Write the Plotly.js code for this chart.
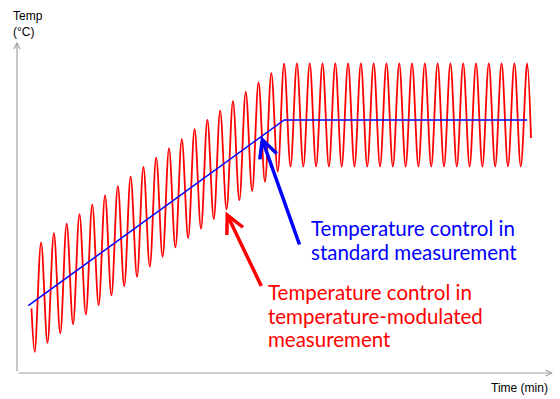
<!DOCTYPE html>
<html>
<head>
<meta charset="utf-8">
<script src="https://cdn.plot.ly/plotly-3.0.1.min.js"></script>
<style>html,body{margin:0;padding:0;background:#fff;}#chart{width:560px;height:399px;}</style>
</head>
<body>
<div id="chart"></div>
<script>
// Temperature-modulated measurement (red): alternating extremes of the modulation
const modTime = [0.25,
  0.5, 1, 1.5, 2, 2.5, 3, 3.5, 4, 4.5, 5, 5.5, 6, 6.5, 7, 7.5, 8, 8.5, 9, 9.5, 10,
  10.5, 11, 11.5, 12, 12.5, 13, 13.5, 14, 14.5, 15, 15.5, 16, 16.5, 17, 17.5, 18, 18.5, 19, 19.5, 20,
  20.5, 21, 21.5, 22, 22.5, 23, 23.5, 24, 24.5, 25, 25.5, 26, 26.5, 27, 27.5, 28, 28.5, 29, 29.5, 30,
  30.5, 31, 31.5, 32, 32.5, 33, 33.5, 34, 34.5, 35, 35.5, 36, 36.5, 37, 37.5, 38, 38.5, 39,
  39.3];
const modTemp = [29,
  12.6, 53.9, 16.0, 57.3, 19.6, 60.9, 23.1, 64.5, 26.7, 68.1, 30.2, 71.6, 33.9, 75.1, 37.4, 78.6, 40.9, 82.3, 44.7, 85.8,
  48.4, 89.3, 52.0, 92.8, 55.5, 96.5, 59.0, 100.0, 62.7, 103.5, 66.3, 107.1, 69.8, 110.6, 73.3, 114.2, 76.7, 117.7, 80.5, 121.2,
  82.5, 121.3, 82.5, 121.3, 82.5, 121.3, 82.5, 121.3, 82.5, 121.3, 82.5, 121.3, 82.5, 121.3, 82.5, 121.3, 82.5, 121.3, 82.5, 121.3,
  82.5, 121.3, 82.5, 121.3, 82.5, 121.3, 82.5, 121.3, 82.5, 121.3, 82.5, 121.3, 82.5, 121.3, 82.5, 121.3, 82.5, 121.3,
  93.2];

// Standard measurement (blue): linear ramp then isothermal hold
const stdTime = [0, 20, 39];
const stdTemp = [30, 100, 100];

const labelStdLines = ['Temperature control in', 'standard measurement'];
const labelModLines = ['Temperature control in', 'temperature-modulated', 'measurement'];
const yTitle = 'Temp<br>(°C)';
const xTitle = 'Time (min)';

const traces = [
  {x: modTime, y: modTemp, type: 'scatter', mode: 'lines',
   line: {color: '#ff0000', width: 1.8, shape: 'spline', smoothing: 1}, hoverinfo: 'skip'},
  {x: stdTime, y: stdTemp, type: 'scatter', mode: 'lines',
   line: {color: '#0000ff', width: 1.5}, hoverinfo: 'skip'}
];

const axisGray = '#a0a0a0';
const labelFont = 'Lato, sans-serif';
const annotations = [
  // axes with open arrowheads
  {xref: 'paper', yref: 'paper', x: 1, y: 0, axref: 'pixel', ayref: 'pixel', ax: -536, ay: 0,
   text: '', showarrow: true, arrowhead: 5, arrowsize: 1, arrowwidth: 1.2, arrowcolor: axisGray},
  {xref: 'paper', yref: 'paper', x: 0, y: 0.995, axref: 'pixel', ayref: 'pixel', ax: 0, ay: 331,
   text: '', showarrow: true, arrowhead: 5, arrowsize: 1, arrowwidth: 1.2, arrowcolor: axisGray},
  // axis titles
  {xref: 'paper', yref: 'paper', x: -0.0112, y: 1.099, xanchor: 'left', yanchor: 'top', align: 'left',
   text: yTitle, showarrow: false, font: {family: 'Liberation Sans, Arial, sans-serif', size: 12, color: '#000'}},
  {xref: 'paper', yref: 'paper', x: 0.9944, y: -0.045, xanchor: 'right', yanchor: 'middle',
   text: xTitle, showarrow: false, font: {family: 'Liberation Sans, Arial, sans-serif', size: 12, color: '#000'}},
  // pointer arrows
  {xref: 'x', yref: 'y', x: 18.19, y: 93.96, axref: 'x', ayref: 'y', ax: 21.24, ay: 52.5,
   text: '', showarrow: true, arrowhead: 5, arrowsize: 1, arrowwidth: 3.5, arrowcolor: '#0000ff'},
  {xref: 'x', yref: 'y', x: 15.42, y: 65.5, axref: 'x', ayref: 'y', ax: 18.27, ay: 36.86,
   text: '', showarrow: true, arrowhead: 5, arrowsize: 1, arrowwidth: 3.5, arrowcolor: '#ff0000'}
];
labelStdLines.forEach((t, i) => annotations.push({
  xref: 'x', yref: 'y', x: 21.92, y: 64.75, yshift: -24.3 * i, xanchor: 'left', yanchor: 'top', align: 'left',
  text: t, showarrow: false, font: {family: labelFont, size: 20.5, color: '#0000ff'}}));
labelModLines.forEach((t, i) => annotations.push({
  xref: 'x', yref: 'y', x: 18.62, y: 40.51, yshift: -23.7 * i, xanchor: 'left', yanchor: 'top', align: 'left',
  text: t, showarrow: false, font: {family: labelFont, size: 20.5, color: '#ff0000'}}));

const layout = {
  width: 560, height: 399,
  margin: {l: 17, r: 7, t: 40, b: 26, pad: 0},
  paper_bgcolor: '#ffffff', plot_bgcolor: '#ffffff',
  showlegend: false,
  xaxis: {range: [-0.883, 41.02], visible: false, fixedrange: true},
  yaxis: {range: [4.63, 130.15], visible: false, fixedrange: true},
  annotations: annotations
};

Plotly.newPlot('chart', traces, layout, {staticPlot: true, displayModeBar: false});
</script>
</body>
</html>
